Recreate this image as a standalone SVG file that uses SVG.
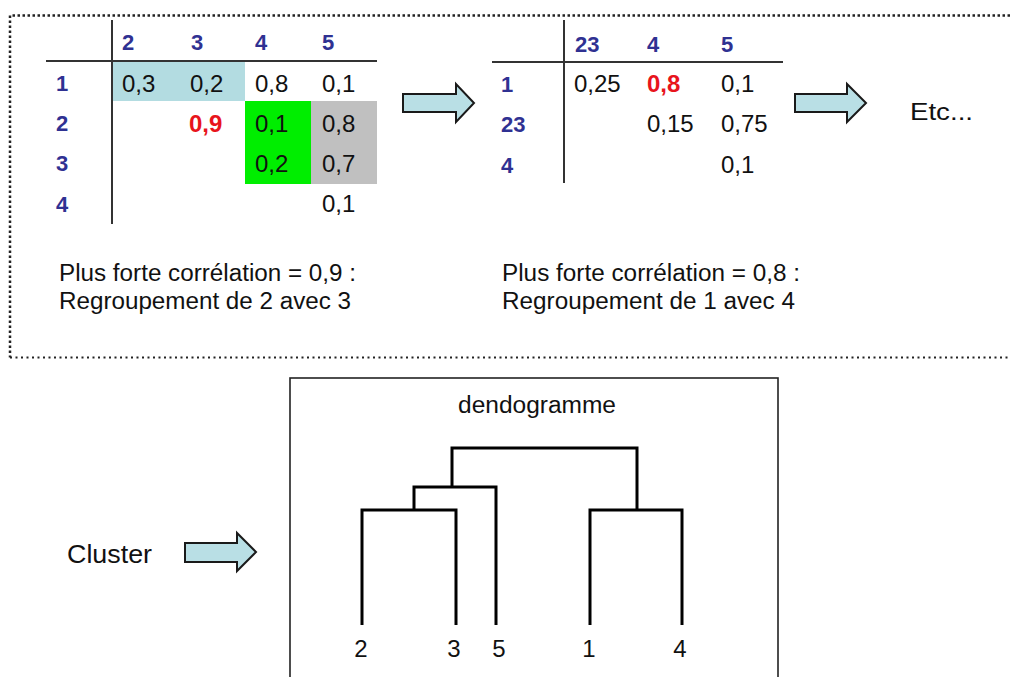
<svg xmlns="http://www.w3.org/2000/svg" width="1010" height="677" viewBox="0 0 1010 677">
<style>
text{font-family:"Liberation Sans",Arial,sans-serif;fill:#111}
.h{font-weight:bold;font-size:22px;fill:#2f3192}
.v{font-size:24px}
.r{font-weight:bold;font-size:24px;fill:#e8141c}
.t{font-size:23px}
.rule{stroke:#333;stroke-width:2;fill:none}
.arrow{fill:#b9dfe5;stroke:#1a1a1a;stroke-width:2;stroke-linejoin:miter}
.tree{stroke:#000;stroke-width:3;fill:none;stroke-linejoin:miter}
</style>
<rect width="1010" height="677" fill="#fff"/>
<g id="frame">
<path d="M1010,15.5 H10 V357.5" fill="none" stroke="#222" stroke-width="2.5" stroke-dasharray="2.5 2.5"/>
<path d="M10,357.5 H1010" fill="none" stroke="#222" stroke-width="2" stroke-dasharray="2 3.5"/>
</g>
<g id="table1">
<rect x="112" y="61" width="133" height="40" fill="#b3dce1"/>
<rect x="245" y="101" width="66" height="83" fill="#00ee00"/>
<rect x="311" y="101" width="66" height="83" fill="#c0c0c0"/>
<path class="rule" d="M112,20 V224 M46,61 H377"/>
<text class="h" x="122" y="50">2</text>
<text class="h" x="191" y="50">3</text>
<text class="h" x="255" y="50">4</text>
<text class="h" x="322" y="50">5</text>
<text class="h" x="56" y="91">1</text>
<text class="h" x="56" y="131">2</text>
<text class="h" x="56" y="171">3</text>
<text class="h" x="56" y="212">4</text>
<text class="v" x="122" y="92">0,3</text>
<text class="v" x="190" y="92">0,2</text>
<text class="v" x="255" y="92">0,8</text>
<text class="v" x="322" y="92">0,1</text>
<text class="r" x="189" y="132">0,9</text>
<text class="v" x="255" y="132">0,1</text>
<text class="v" x="322" y="132">0,8</text>
<text class="v" x="255" y="172">0,2</text>
<text class="v" x="322" y="172">0,7</text>
<text class="v" x="322" y="212">0,1</text>
</g>
<g id="table2">
<path class="rule" d="M564,20 V183 M492,62 H783"/>
<text class="h" x="575" y="52">23</text>
<text class="h" x="647" y="52">4</text>
<text class="h" x="721" y="52">5</text>
<text class="h" x="501" y="92">1</text>
<text class="h" x="501" y="132">23</text>
<text class="h" x="501" y="173">4</text>
<text class="v" x="574" y="92">0,25</text>
<text class="r" x="647" y="92">0,8</text>
<text class="v" x="721" y="92">0,1</text>
<text class="v" x="647" y="132">0,15</text>
<text class="v" x="721" y="132">0,75</text>
<text class="v" x="721" y="173">0,1</text>
</g>
<g id="step1-text">
<text class="t" x="59" y="281" textLength="297" lengthAdjust="spacingAndGlyphs">Plus forte corrélation = 0,9 :</text>
<text class="t" x="59" y="309" textLength="292" lengthAdjust="spacingAndGlyphs">Regroupement de 2 avec 3</text>
</g>
<g id="step2-text">
<text class="t" x="502" y="281" textLength="298" lengthAdjust="spacingAndGlyphs">Plus forte corrélation = 0,8 :</text>
<text class="t" x="502" y="309" textLength="293" lengthAdjust="spacingAndGlyphs">Regroupement de 1 avec 4</text>
</g>
<g id="etc">
<text class="t" x="910" y="120" textLength="63" lengthAdjust="spacingAndGlyphs">Etc...</text>
</g>
<g id="cluster">
<text x="67" y="563" font-size="26" textLength="85" lengthAdjust="spacingAndGlyphs">Cluster</text>
</g>
<g id="connectors">
<path class="arrow" d="M403,94 H456 V84 L474,103 L456,122 V112 H403 Z"/>
<path class="arrow" d="M795,94 H847 V84 L866,103 L847,122 V112 H795 Z"/>
<path class="arrow" d="M185,543 H237 V533 L256,552 L237,571 V562 H185 Z"/>
</g>
<g id="dendrogram">
<rect x="290" y="378" width="488" height="330" fill="none" stroke="#222" stroke-width="1.6"/>
<text x="537" y="413" font-size="23" text-anchor="middle" textLength="158" lengthAdjust="spacingAndGlyphs">dendogramme</text>
<path class="tree" d="M362,625 V510 H456 V625"/>
<path class="tree" d="M414,510 V487 H496 V625"/>
<path class="tree" d="M452,487 V448 H637 V510"/>
<path class="tree" d="M590,625 V510 H682 V625"/>
<text class="v" x="361" y="657" text-anchor="middle">2</text>
<text class="v" x="454" y="657" text-anchor="middle">3</text>
<text class="v" x="499" y="657" text-anchor="middle">5</text>
<text class="v" x="589" y="657" text-anchor="middle">1</text>
<text class="v" x="680" y="657" text-anchor="middle">4</text>
</g>
</svg>
